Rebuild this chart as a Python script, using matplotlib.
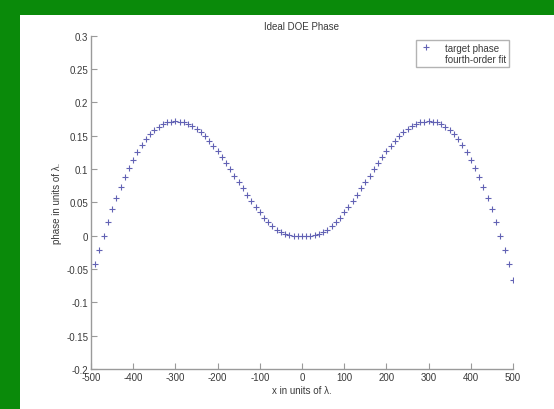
import matplotlib
matplotlib.use("Agg")
import matplotlib.pyplot as plt
from matplotlib.patches import Rectangle
from matplotlib.lines import Line2D

plt.rcParams['font.family'] = ['Liberation Sans', 'DejaVu Sans']

# Data: x positions (units of lambda) and phase values
x_pos = list(range(-490, 501, 10))
phase_left = [-0.042, -0.021, 0.000, 0.021, 0.040, 0.057, 0.073, 0.088, 0.102, 0.114,
              0.126, 0.136, 0.145, 0.152, 0.158, 0.163, 0.167, 0.170, 0.171, 0.172,
              0.171, 0.170, 0.168, 0.164, 0.160, 0.155, 0.149, 0.142, 0.135, 0.127,
              0.118, 0.109, 0.100, 0.090, 0.080, 0.071, 0.061, 0.052, 0.043, 0.035,
              0.027, 0.020, 0.014, 0.009, 0.005, 0.002, 0.001, 0.000, 0.000]
phase_center = [0.000]
phase_right = [0.000, 0.000, 0.001, 0.002, 0.005, 0.009, 0.014, 0.020, 0.027, 0.035,
               0.043, 0.052, 0.061, 0.071, 0.080, 0.090, 0.100, 0.109, 0.118, 0.127,
               0.135, 0.142, 0.149, 0.155, 0.160, 0.164, 0.168, 0.170, 0.171, 0.172,
               0.171, 0.170, 0.167, 0.163, 0.158, 0.152, 0.145, 0.136, 0.126, 0.114,
               0.102, 0.088, 0.073, 0.057, 0.040, 0.021, 0.000, -0.021, -0.042, -0.067]
phase = phase_left + phase_center + phase_right

x_ticks = [-500, -400, -300, -200, -100, 0, 100, 200, 300, 400, 500]
x_tick_labels = ['-500', '-400', '-300', '-200', '-100', '0', '100', '200', '300', '400', '500']
y_ticks = [-0.2, -0.15, -0.1, -0.05, 0, 0.05, 0.1, 0.15, 0.2, 0.25, 0.3]
y_tick_labels = ['-0.2', '-0.15', '-0.1', '-0.05', '0', '0.05', '0.1', '0.15', '0.2', '0.25', '0.3']

W, H = 554, 410
fig = plt.figure(figsize=(W / 100, H / 100), dpi=100)
fig.patch.set_facecolor('#0a8a0a')
fig.add_artist(Rectangle((20 / W, 0), 1 - 20 / W, 1 - 16 / H, transform=fig.transFigure,
                         facecolor='white', edgecolor='none', zorder=0))

left, right, top, bottom = 91, 513, 36.7, 370
ax = fig.add_axes([left / W, (H - bottom) / H, (right - left) / W, (bottom - top) / H])
ax.set_facecolor('white')

text_color = '#3a3a3a'
axis_color = '#9a9a9a'
marker_color = '#6262b4'

ax.plot(x_pos, phase, linestyle='none', marker='+', color=marker_color,
        markersize=5, markeredgewidth=0.8, label='target phase')

ax.set_xlim(-500, 500)
ax.set_ylim(-0.2, 0.3)
ax.set_xticks(x_ticks)
ax.set_xticklabels(x_tick_labels)
ax.set_yticks(y_ticks)
ax.set_yticklabels(y_tick_labels)

for s in ['top', 'right']:
    ax.spines[s].set_visible(False)
for s in ['left', 'bottom']:
    ax.spines[s].set_color(axis_color)
    ax.spines[s].set_linewidth(1.0)
ax.tick_params(direction='in', length=4, width=0.8, color=axis_color,
               labelsize=7, labelcolor=text_color, pad=2)

ax.set_title('Ideal DOE Phase', fontsize=7, color=text_color, pad=5)
ax.set_xlabel('x in units of λ.', fontsize=7, color=text_color, labelpad=2)
ax.set_ylabel('phase in units of λ.', fontsize=7, color=text_color, labelpad=3)

handles = [Line2D([], [], linestyle='none', marker='+', color=marker_color,
                  markersize=5, markeredgewidth=0.8),
           Line2D([], [], linestyle='none', marker=None, color='white')]
leg = ax.legend(handles, ['target phase', 'fourth-order fit'], loc='upper right',
                bbox_to_anchor=(0.99, 0.988), fontsize=7, frameon=True, fancybox=False,
                handlelength=1.5, handletextpad=1.2, borderpad=0.3, labelspacing=0.15,
                borderaxespad=0)
leg.get_frame().set_edgecolor('#a0a0a0')
leg.get_frame().set_linewidth(1.0)
for t in leg.get_texts():
    t.set_color(text_color)

fig.savefig('out.png', dpi=100, facecolor=fig.get_facecolor())
